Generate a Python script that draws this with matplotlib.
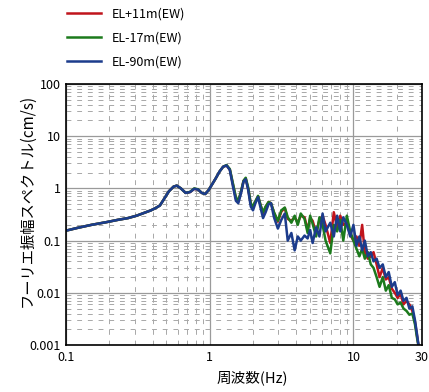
import matplotlib
matplotlib.use("Agg")
import matplotlib.pyplot as plt
from matplotlib.ticker import LogLocator, FixedLocator, FixedFormatter, NullFormatter

plt.rcParams['font.family'] = ['Noto Sans CJK JP', 'DejaVu Sans']

freq = [0.10, 0.12, 0.15, 0.19, 0.23, 0.27, 0.31, 0.35, 0.39, 0.42, 0.45, 0.48, 0.52, 0.56,
        0.59, 0.63, 0.68, 0.73, 0.78, 0.83, 0.88, 0.93, 0.98, 1.04, 1.10, 1.17, 1.24, 1.31,
        1.38, 1.45, 1.52, 1.58, 1.65, 1.72, 1.78, 1.85, 1.93, 2.00, 2.08, 2.17, 2.26, 2.35,
        2.45, 2.57, 2.67, 2.80, 2.98, 3.15, 3.33, 3.49, 3.70, 3.90, 4.10, 4.30, 4.57, 4.80,
        5.00, 5.20, 5.50, 5.80, 6.10, 6.40, 6.90, 7.30, 7.70, 8.10, 8.50, 9.00, 9.50, 10.0,
        10.5, 11.0, 11.5, 12.0, 12.6, 13.2, 13.8, 14.5, 15.2, 16.0, 16.8, 17.6, 18.5, 19.4,
        20.3, 21.3, 22.3, 23.4, 24.5, 25.7, 26.8, 27.8, 28.5]

el_p11 = [0.155, 0.175, 0.20, 0.225, 0.25, 0.27, 0.30, 0.34, 0.38, 0.42, 0.47, 0.62, 0.88, 1.08,
          1.13, 1.0, 0.82, 0.85, 0.98, 0.95, 0.82, 0.78, 0.92, 1.2, 1.55, 2.1, 2.6, 2.75,
          2.3, 1.2, 0.65, 0.56, 0.85, 1.4, 1.55, 1.0, 0.5, 0.43, 0.56, 0.70, 0.47, 0.33,
          0.44, 0.55, 0.52, 0.34, 0.23, 0.36, 0.42, 0.26, 0.24, 0.28, 0.22, 0.30, 0.28, 0.16,
          0.27, 0.24, 0.14, 0.25, 0.30, 0.20, 0.09, 0.35, 0.18, 0.30, 0.20, 0.22, 0.13, 0.10,
          0.12, 0.08, 0.20, 0.06, 0.045, 0.05, 0.06, 0.035, 0.02, 0.03, 0.018, 0.02, 0.012, 0.01,
          0.008, 0.0095, 0.006, 0.007, 0.006, 0.0045, 0.0028, 0.0014, 0.0009]

el_m17 = [0.155, 0.175, 0.20, 0.225, 0.25, 0.27, 0.30, 0.34, 0.38, 0.42, 0.47, 0.62, 0.88, 1.08,
          1.13, 1.0, 0.82, 0.86, 1.0, 0.96, 0.82, 0.78, 0.92, 1.2, 1.55, 2.1, 2.6, 2.8,
          2.35, 1.25, 0.68, 0.58, 0.87, 1.4, 1.6, 1.05, 0.52, 0.45, 0.57, 0.72, 0.48, 0.35,
          0.45, 0.55, 0.52, 0.35, 0.24, 0.38, 0.43, 0.28, 0.22, 0.30, 0.20, 0.33, 0.26, 0.14,
          0.30, 0.21, 0.12, 0.28, 0.20, 0.10, 0.057, 0.20, 0.15, 0.25, 0.10, 0.30, 0.15, 0.10,
          0.07, 0.05, 0.07, 0.045, 0.06, 0.035, 0.03, 0.02, 0.013, 0.02, 0.011, 0.014, 0.008, 0.0075,
          0.006, 0.0065, 0.005, 0.0045, 0.0038, 0.004, 0.0025, 0.0013, 0.0009]

el_m90 = [0.155, 0.175, 0.20, 0.225, 0.25, 0.27, 0.30, 0.34, 0.38, 0.42, 0.47, 0.62, 0.88, 1.08,
          1.13, 1.0, 0.82, 0.85, 0.98, 0.95, 0.82, 0.78, 0.92, 1.2, 1.55, 2.1, 2.6, 2.75,
          2.25, 1.1, 0.58, 0.52, 0.8, 1.35, 1.5, 0.95, 0.45, 0.38, 0.52, 0.68, 0.42, 0.27,
          0.35, 0.50, 0.52, 0.28, 0.17, 0.25, 0.33, 0.10, 0.14, 0.065, 0.12, 0.10, 0.125, 0.11,
          0.16, 0.09, 0.18, 0.12, 0.33, 0.15, 0.22, 0.12, 0.30, 0.15, 0.28, 0.20, 0.12, 0.20,
          0.08, 0.12, 0.065, 0.10, 0.05, 0.06, 0.04, 0.045, 0.03, 0.035, 0.02, 0.025, 0.013, 0.016,
          0.009, 0.011, 0.007, 0.008, 0.005, 0.0055, 0.003, 0.0015, 0.0009]

labels = ['EL+11m(EW)', 'EL-17m(EW)', 'EL-90m(EW)']
colors = ['#c0141c', '#1c7a1c', '#1c3c8c']
x_ticks = [0.1, 1, 10, 30]
x_ticklabels = ['0.1', '1', '10', '30']
y_ticks = [0.001, 0.01, 0.1, 1, 10, 100]
y_ticklabels = ['0.001', '0.01', '0.1', '1', '10', '100']

fig = plt.figure(figsize=(4.29, 3.92), dpi=100)
ax = fig.add_axes([66/429, 1-345/392, (422-66)/429, (345-84)/392])
ax.set_xscale('log')
ax.set_yscale('log')
ax.set_xlim(0.1, 30)
ax.set_ylim(0.001, 100)

for vals, c, lab in zip([el_p11, el_m17, el_m90], colors, labels):
    ax.plot(freq, vals, color=c, lw=1.8, label=lab)

ax.xaxis.set_major_locator(FixedLocator(x_ticks))
ax.xaxis.set_major_formatter(FixedFormatter(x_ticklabels))
ax.xaxis.set_minor_locator(LogLocator(base=10, subs=range(2, 10), numticks=20))
ax.xaxis.set_minor_formatter(NullFormatter())
ax.yaxis.set_major_locator(FixedLocator(y_ticks))
ax.yaxis.set_major_formatter(FixedFormatter(y_ticklabels))
ax.yaxis.set_minor_locator(LogLocator(base=10, subs=range(2, 10), numticks=20))
ax.yaxis.set_minor_formatter(NullFormatter())

ax.grid(True, which='major', color='#9a9a9a', lw=0.9, ls='-')
ax.grid(True, which='minor', color='#a8a8a8', lw=0.7, ls=(0, (5, 6)))
ax.set_axisbelow(True)
ax.tick_params(which='both', length=0, labelsize=9, pad=4)
for s in ax.spines.values():
    s.set_color('black')
    s.set_linewidth(1.2)

ax.set_xlabel('周波数(Hz)', fontsize=10.5)
ax.xaxis.set_label_coords((252 - 66) / 356, -(370 - 345) / 261)
ax.set_ylabel('フーリエ振幅スペクトル(cm/s)', fontsize=11)
ax.yaxis.set_label_coords((36 - 66) / 356, (345 - 200) / 261)

leg = fig.legend(loc='upper left', bbox_to_anchor=(0.13, 1.01), frameon=False,
                 handlelength=2.7, labelspacing=0.9, fontsize=9, handletextpad=0.9)

fig.savefig('out.png', dpi=100)
